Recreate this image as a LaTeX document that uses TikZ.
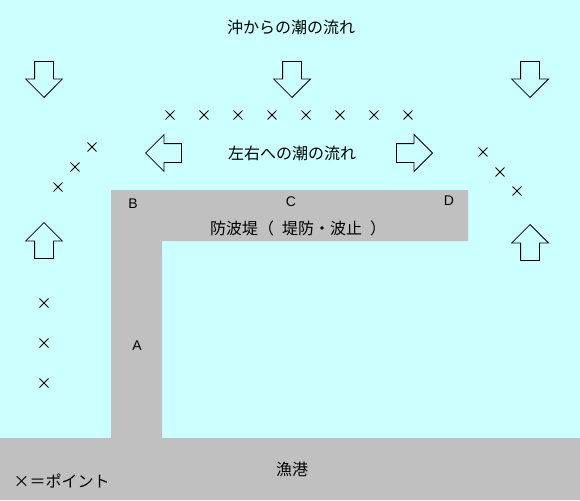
\documentclass[tikz,border=0pt]{standalone}
\usepackage{fontspec}
\setmainfont{Liberation Sans}
\newfontfamily\jpfont{Noto Sans CJK JP}
\usetikzlibrary{shapes.arrows}
\usetikzlibrary{shapes.misc}

\definecolor{sea}{RGB}{204,255,255}
\definecolor{wall}{RGB}{192,192,192}

\tikzset{
	flow/.style={single arrow, draw=black, line width=0.8pt, minimum height=36pt,
		minimum width=36pt, single arrow head extend=9pt, inner xsep=0pt, inner ysep=9pt,
		anchor=tip},
	point/.style={cross out, draw=black, line width=0.9pt, minimum size=8pt, inner sep=0pt},
	jp/.style={font=\jpfont\fontsize{16}{16}\selectfont},
	letter/.style={font=\fontsize{14}{14}\selectfont}
}

\begin{document}
\begin{tikzpicture}[x=1pt, y=-1pt]
		\useasboundingbox (0, 0) rectangle (580, 500);
		\fill[sea] (0, 0) rectangle (580, 500);
		% breakwater and harbour
		\fill[wall] (111, 190) to (468, 190) to (468, 241) to (162, 241) to (162, 438)
		to (580, 438) to (580, 500) to (0, 500) to (0, 438) to (111, 438) to cycle;
		\node[jp] (offshore) at (291, 27) {沖からの潮の流れ};
		\node[jp] (sides) at (292, 153) {左右への潮の流れ};
		\node[jp] (wallname) at (298, 228) {防波堤（\hspace{8pt}堤防・波止\hspace{8pt}）};
		\node[jp] (port) at (292, 469) {漁港};
		\node[jp, anchor=west] (legend) at (10, 481) {×＝ポイント};
		\node[letter] (B) at (133, 204) {B};
		\node[letter] (C) at (291, 202) {C};
		\node[letter] (D) at (449, 201) {D};
		\node[letter] (A) at (137, 346) {A};
		% flow arrows, placed by their tips
		\node[flow, rotate=-90] (downL) at (44, 98) {};
		\node[flow, rotate=-90] (downM) at (292, 98) {};
		\node[flow, rotate=-90] (downR) at (530, 98) {};
		\node[flow, rotate=180] (left) at (145, 153) {};
		\node[flow] (right) at (433, 153) {};
		\node[flow, rotate=90] (upL) at (44, 222) {};
		\node[flow, rotate=90] (upR) at (530, 224) {};
		% points
		\foreach \x [count=\i] in {170, 204, 238, 272, 306, 340, 374, 408}
			\node[point] (top\i) at (\x, 115) {};
		\node[point] (diagL1) at (92, 147) {};
		\node[point] (diagL2) at (75, 167) {};
		\node[point] (diagL3) at (58, 187) {};
		\node[point] (diagR1) at (483, 152) {};
		\node[point] (diagR2) at (500, 172) {};
		\node[point] (diagR3) at (517, 191) {};
		\foreach \y [count=\i] in {303, 343, 383}
			\node[point] (col\i) at (44, \y) {};
	\end{tikzpicture}
\end{document}
